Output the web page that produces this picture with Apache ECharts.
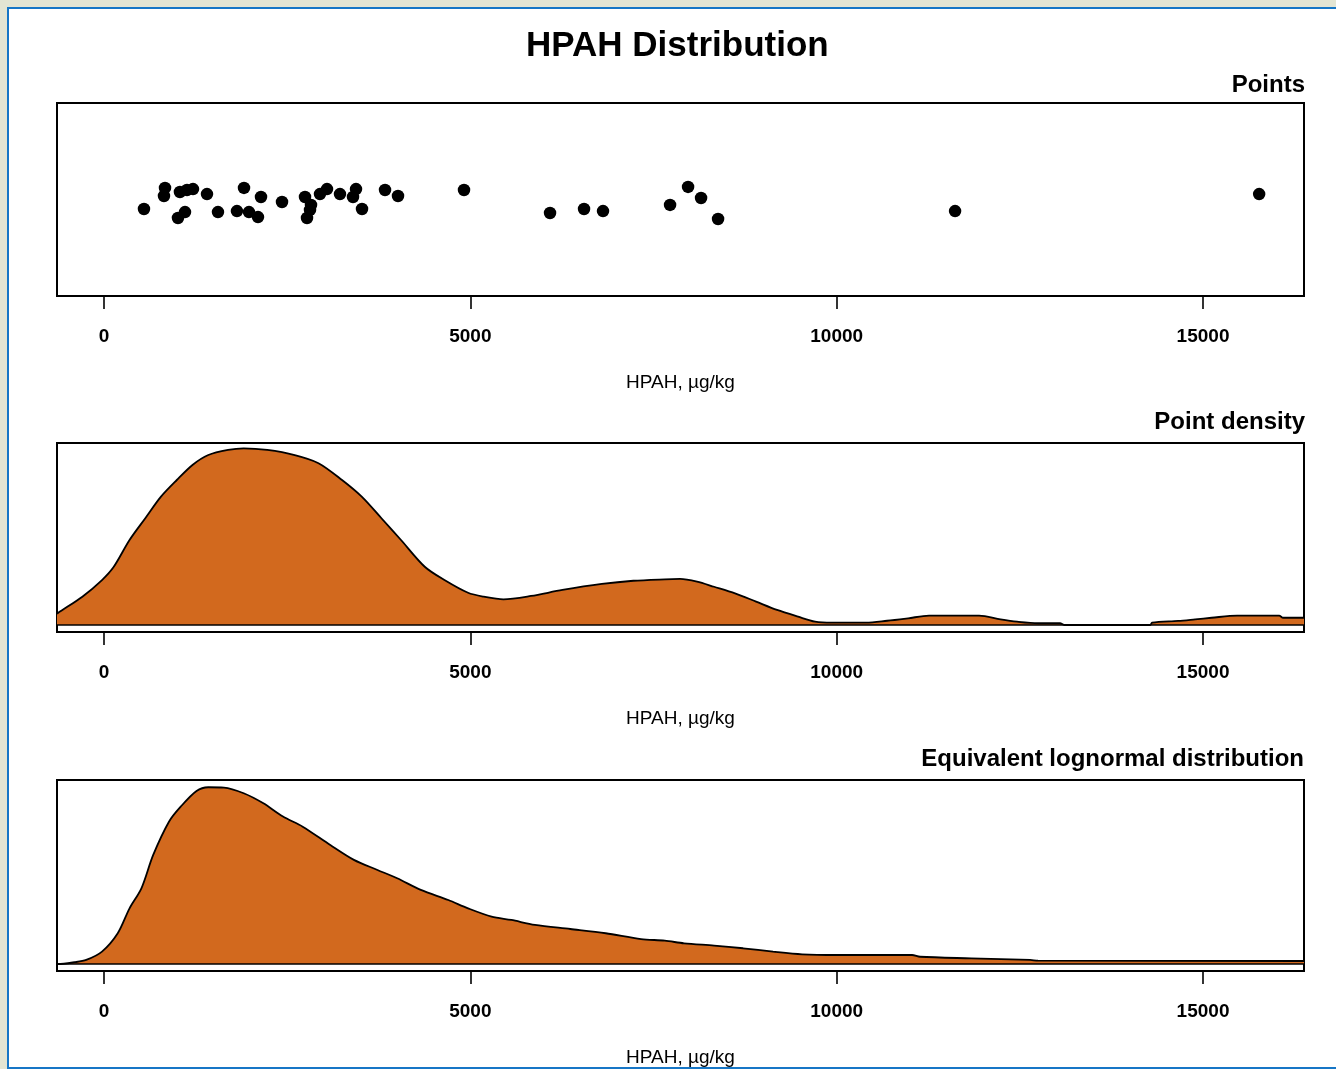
<!DOCTYPE html>
<html>
<head>
<meta charset="utf-8">
<script src="https://cdn.jsdelivr.net/npm/echarts@6/dist/echarts.min.js"></script>
<style>
  html, body { margin: 0; padding: 0; background: #e3e5d3; overflow: hidden; width: 1336px; height: 1069px; }
  #frame { position: absolute; left: 7px; top: 7px; width: 1340px; height: 1058px; background: #ffffff;
           border-left: 2px solid #1676c6; border-top: 2px solid #1676c6; border-bottom: 2px solid #1676c6; }
  #chart { position: absolute; left: 0; top: 0; width: 1336px; height: 1069px; }
</style>
</head>
<body>
<div id="frame"></div>
<div id="chart"></div>
<script>
// ---- Data ----
const tickValues = [0, 5000, 10000, 15000];

// Observed HPAH values (µg/kg) and their vertical jitter (0..1 within panel)
const hpahValues = [546, 833, 819, 1037, 1133, 1215, 1010, 1106, 1406, 1556,
                    1911, 2143, 1815, 1979, 2102, 2430, 2744, 2826, 2812, 2771,
                    2948, 3044, 3221, 3440, 3399, 3522, 3836, 4013, 4914, 6088,
                    6552, 6811, 7726, 7972, 8149, 8381, 11616, 15766];
const jitterY = [0.451, 0.560, 0.518, 0.539, 0.549, 0.554, 0.404, 0.435, 0.528, 0.435,
                 0.560, 0.513, 0.440, 0.435, 0.409, 0.487, 0.513, 0.472, 0.446, 0.404,
                 0.528, 0.554, 0.528, 0.554, 0.513, 0.451, 0.549, 0.518, 0.549, 0.430,
                 0.451, 0.440, 0.472, 0.565, 0.508, 0.399, 0.440, 0.528];

// Point density (relative, peak = 1)
const densityX = [-641, -628, -295, -27, 134, 349, 564, 778, 994, 1208, 1424, 1693, 1907, 2229, 2604,
                  2928, 3249, 3518, 3787, 4054, 4378, 4647, 4969, 5183, 5452, 5829, 6257, 6795,
                  7225, 7654, 7862, 8094, 8327, 8613, 8900, 9186, 9473, 9705, 9937, 10401, 10688,
                  10975, 11261, 11944, 12237, 12462, 12749, 13049, 13104, 14278, 14305, 14660,
                  14892, 15117, 15465, 16039, 16093, 16378];
const densityY = [0.062, 0.068, 0.160, 0.254, 0.329, 0.480, 0.603, 0.725, 0.819, 0.904, 0.960, 0.989,
                  0.998, 0.989, 0.960, 0.914, 0.819, 0.725, 0.603, 0.480, 0.329, 0.254, 0.182, 0.160,
                  0.145, 0.164, 0.198, 0.232, 0.250, 0.258, 0.260, 0.245, 0.216, 0.179, 0.132, 0.085,
                  0.047, 0.019, 0.013, 0.013, 0.024, 0.038, 0.053, 0.053, 0.032, 0.019, 0.010, 0.010,
                  0.0, 0.0, 0.013, 0.023, 0.032, 0.041, 0.053, 0.053, 0.041, 0.041];

// Equivalent lognormal distribution (relative, peak = 1)
const lognormX = [-641, -628, -403, -242, -27, 188, 349, 511, 672, 887, 1047, 1263, 1424, 1638, 1907,
                  2176, 2443, 2712, 3089, 3411, 3733, 4002, 4324, 4700, 4969, 5291, 5560, 5882,
                  6365, 6848, 7330, 7654, 7917, 8327, 8722, 9132, 9528, 9992, 11029, 11138, 11835,
                  12640, 12749, 16378];
const lognormY = [0, 0, 0.010, 0.023, 0.070, 0.174, 0.315, 0.428, 0.617, 0.805, 0.890, 0.979, 1.0, 0.998,
                  0.966, 0.909, 0.834, 0.777, 0.673, 0.589, 0.532, 0.485, 0.419, 0.362, 0.315, 0.268,
                  0.249, 0.221, 0.198, 0.174, 0.141, 0.132, 0.117, 0.104, 0.089, 0.070, 0.055, 0.051,
                  0.051, 0.041, 0.032, 0.023, 0.019, 0.017];

const mainTitle = 'HPAH Distribution';
const panelTitles = ['Points', 'Point density', 'Equivalent lognormal distribution'];
const axisTitle = 'HPAH, µg/kg';

// ---- Chart ----
const FONT = '"Liberation Sans", Arial, sans-serif';
const XMIN = -641, XMAX = 16378;

const grids = [
  { left: 57, top: 103, width: 1247, height: 193 },
  { left: 57, top: 443, width: 1247, height: 189 },
  { left: 57, top: 780, width: 1247, height: 191 }
].map(g => Object.assign(g, { show: true, borderColor: '#000', borderWidth: 2, backgroundColor: 'transparent', containLabel: false }));

function makeX(i) {
  return {
    type: 'value', gridIndex: i, min: XMIN, max: XMAX,
    splitLine: { show: false },
    axisLine: { show: false, onZero: false },
    axisTick: { show: true, inside: false, length: 13, customValues: tickValues,
                lineStyle: { color: '#000', width: 1.6 } },
    axisLabel: { show: true, customValues: tickValues, margin: 31,
                 formatter: v => String(v),
                 color: '#000', fontFamily: FONT, fontWeight: 'bold', fontSize: 19 },
    name: axisTitle, nameLocation: 'middle', nameGap: 77,
    nameTextStyle: { color: '#000', fontFamily: FONT, fontSize: 19 }
  };
}
function makeY(i, min, max) {
  return { type: 'value', gridIndex: i, min: min, max: max, show: false, splitLine: { show: false } };
}

const baseLine = {
  silent: true, symbol: 'none', label: { show: false },
  lineStyle: { color: '#000', width: 1.6, type: 'solid' },
  data: [{ yAxis: 0 }]
};

const option = {
  backgroundColor: 'transparent',
  animation: false,
  title: [
    { text: mainTitle, left: 526, top: 29, padding: 0,
      textStyle: { fontFamily: FONT, fontWeight: 'bold', fontSize: 35, color: '#000' } },
    { text: panelTitles[0], right: 31, top: 73, padding: 0,
      textStyle: { fontFamily: FONT, fontWeight: 'bold', fontSize: 24, color: '#000' } },
    { text: panelTitles[1], right: 31, top: 410, padding: 0,
      textStyle: { fontFamily: FONT, fontWeight: 'bold', fontSize: 24, color: '#000' } },
    { text: panelTitles[2], right: 32, top: 747, padding: 0,
      textStyle: { fontFamily: FONT, fontWeight: 'bold', fontSize: 24, color: '#000' } }
  ],
  grid: grids,
  xAxis: [makeX(0), makeX(1), makeX(2)],
  yAxis: [makeY(0, 0, 1), makeY(1, -0.0395, 1.028), makeY(2, -0.0396, 1.041)],
  series: [
    {
      type: 'scatter', xAxisIndex: 0, yAxisIndex: 0,
      symbol: 'circle', symbolSize: 12.5,
      itemStyle: { color: '#000', opacity: 1 },
      data: hpahValues.map((v, i) => [v, jitterY[i]])
    },
    {
      type: 'line', xAxisIndex: 1, yAxisIndex: 1,
      symbol: 'none', smooth: 0.3,
      lineStyle: { color: '#000', width: 1.8 },
      areaStyle: { color: '#d2691e', opacity: 1, origin: 0 },
      markLine: baseLine,
      data: densityX.map((v, i) => [v, densityY[i]])
    },
    {
      type: 'line', xAxisIndex: 2, yAxisIndex: 2,
      symbol: 'none', smooth: 0.3,
      lineStyle: { color: '#000', width: 1.8 },
      areaStyle: { color: '#d2691e', opacity: 1, origin: 0 },
      markLine: baseLine,
      data: lognormX.map((v, i) => [v, lognormY[i]])
    }
  ]
};

const chart = echarts.init(document.getElementById('chart'), null, { renderer: 'canvas' });
chart.setOption(option);
</script>
</body>
</html>
